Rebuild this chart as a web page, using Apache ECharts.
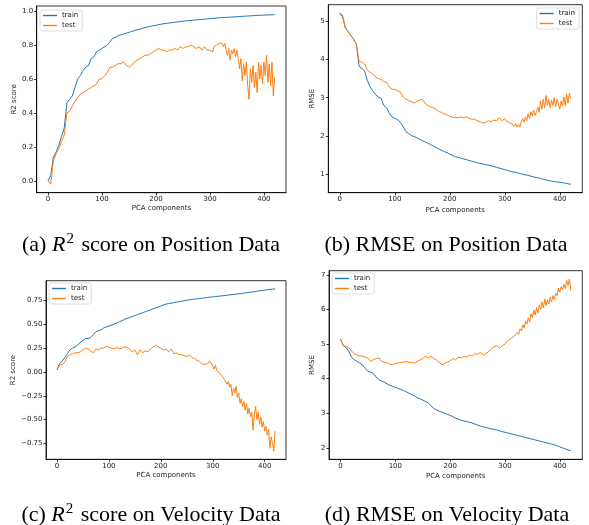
<!DOCTYPE html>
<html><head><meta charset="utf-8">
<script src="https://cdn.jsdelivr.net/npm/echarts@6/dist/echarts.min.js"></script>
<style>html,body{margin:0;padding:0;background:#fff}#c{width:589px;height:525px}</style>
</head><body><div id="c"></div>
<script>
const comps = [0,5,10,15,20,25,30,35,40,45,50,55,60,65,70,75,80,85,90,95,100,105,110,115,120,125,130,135,140,145,150,155,160,165,170,175,180,185,190,195,200,205,210,215,220,225,230,235,240,245,250,255,260,265,270,275,280,285,290,295,300,305,310,315,320,325,330,335,340,345,350,355,360,365,370,375,380,385,390,395,400,405,410,415,420];
const tailComps = [300,302.5,305,307.5,310,312.5,315,317.5,320,322.5,325,327.5,330,332.5,335,337.5,340,342.5,345,347.5,350,352.5,355,357.5,360,362.5,365,367.5,370,372.5,375,377.5,380,382.5,385,387.5,390,392.5,395,397.5,400,402.5,405,407.5,410,412.5,415,417.5,420];

const trainA = [0.00,0.03,0.14,0.17,0.21,0.26,0.31,0.46,0.48,0.50,
0.55,0.60,0.62,0.65,0.67,0.68,0.72,0.73,0.76,0.77,
0.78,0.79,0.80,0.82,0.84,0.845,0.855,0.86,0.865,0.87,
0.875,0.88,0.885,0.89,0.893,0.898,0.903,0.907,0.91,0.914,
0.917,0.92,0.923,0.926,0.928,0.93,0.932,0.934,0.936,0.938,
0.94,0.942,0.944,0.945,0.947,0.948,0.95,0.951,0.953,0.954,
0.956,0.957,0.958,0.96,0.961,0.962,0.963,0.964,0.965,0.966,
0.967,0.968,0.969,0.97,0.971,0.972,0.973,0.974,0.975,0.976,
0.976,0.977,0.978,0.978,0.979];
const testA = [0.00,-0.02,0.12,0.16,0.19,0.23,0.27,0.40,0.41,0.44,
0.47,0.49,0.51,0.52,0.53,0.54,0.55,0.56,0.57,0.60,
0.60,0.62,0.64,0.67,0.67,0.68,0.69,0.69,0.70,0.68,
0.67,0.68,0.70,0.71,0.72,0.73,0.74,0.74,0.75,0.76,
0.77,0.78,0.77,0.77,0.76,0.77,0.77,0.78,0.77,0.79,
0.78,0.79,0.79,0.80,0.79,0.78,0.79,0.77,0.79,0.77];
const testATail = [0.77,0.78,0.76,0.79,0.78,0.80,0.79,0.81,0.80,0.81,
0.79,0.81,0.77,0.74,0.78,0.71,0.77,0.75,0.78,0.73,
0.77,0.72,0.66,0.72,0.59,0.69,0.62,0.70,0.56,0.48,
0.66,0.58,0.68,0.55,0.64,0.52,0.70,0.60,0.68,0.57,
0.70,0.62,0.74,0.58,0.69,0.56,0.70,0.50,0.61];

const trainB = [5.20,5.10,4.82,4.72,4.62,4.52,4.40,3.82,3.76,3.70,
3.45,3.28,3.18,3.08,3.02,2.98,2.80,2.74,2.60,2.50,
2.46,2.43,2.36,2.25,2.12,2.07,2.02,1.99,1.96,1.92,
1.89,1.85,1.82,1.78,1.74,1.71,1.67,1.63,1.60,1.57,
1.53,1.50,1.47,1.45,1.43,1.41,1.39,1.37,1.35,1.33,
1.31,1.29,1.28,1.26,1.25,1.23,1.21,1.19,1.17,1.15,
1.13,1.11,1.09,1.07,1.06,1.04,1.02,1.00,0.99,0.97,
0.95,0.93,0.92,0.90,0.88,0.86,0.85,0.83,0.82,0.81,
0.80,0.79,0.78,0.76,0.75];
const testB = [5.20,5.15,4.82,4.72,4.62,4.52,4.40,3.95,3.93,3.88,
3.72,3.66,3.62,3.54,3.50,3.48,3.42,3.40,3.28,3.22,
3.22,3.18,3.15,3.02,2.96,2.93,2.90,2.86,2.90,2.94,
2.96,2.86,2.80,2.76,2.74,2.70,2.64,2.62,2.58,2.55,
2.52,2.49,2.49,2.48,2.50,2.48,2.51,2.46,2.44,2.44,
2.40,2.38,2.34,2.36,2.40,2.38,2.42,2.40,2.48,2.40];
const testBTail = [2.46,2.40,2.44,2.36,2.40,2.32,2.36,2.26,2.32,2.24,
2.30,2.24,2.38,2.46,2.36,2.50,2.40,2.58,2.46,2.64,
2.52,2.68,2.54,2.62,2.76,2.62,2.92,2.70,2.96,2.74,
3.06,2.80,2.96,2.74,2.94,2.80,3.00,2.76,2.96,2.82,
2.70,2.92,2.78,3.02,2.80,3.10,2.86,3.12,2.98];

const trainC = [0.02,0.09,0.11,0.15,0.19,0.23,0.25,0.26,0.28,0.31,
0.33,0.35,0.35,0.36,0.39,0.42,0.43,0.44,0.46,0.47,
0.48,0.49,0.50,0.51,0.525,0.535,0.55,0.56,0.57,0.58,
0.59,0.60,0.61,0.62,0.63,0.64,0.65,0.66,0.67,0.68,
0.69,0.70,0.71,0.715,0.72,0.725,0.73,0.735,0.74,0.745,
0.75,0.755,0.76,0.762,0.765,0.77,0.772,0.775,0.78,0.783,
0.786,0.789,0.792,0.795,0.798,0.80,0.805,0.808,0.81,0.815,
0.818,0.82,0.825,0.83,0.833,0.836,0.84,0.845,0.85,0.853,
0.856,0.86,0.864,0.867,0.87];
const testC = [0.02,0.07,0.08,0.10,0.16,0.18,0.19,0.20,0.20,0.21,
0.23,0.25,0.24,0.22,0.20,0.24,0.23,0.25,0.25,0.27,
0.26,0.25,0.24,0.26,0.24,0.25,0.26,0.26,0.24,0.21,
0.23,0.18,0.23,0.20,0.22,0.21,0.24,0.26,0.28,0.26,
0.25,0.23,0.24,0.21,0.24,0.19,0.20,0.18,0.18,0.17,
0.16,0.18,0.15,0.14,0.12,0.11,0.08,0.08,0.09,0.11];
const testCTail = [0.06,0.03,0.07,0.02,0.04,-0.01,0.01,-0.04,-0.03,-0.08,
-0.06,-0.13,-0.10,-0.16,-0.13,-0.25,-0.17,-0.22,-0.15,-0.27,
-0.22,-0.33,-0.28,-0.36,-0.31,-0.40,-0.33,-0.44,-0.38,-0.47,
-0.42,-0.61,-0.45,-0.36,-0.50,-0.42,-0.55,-0.47,-0.58,-0.52,
-0.62,-0.57,-0.66,-0.60,-0.80,-0.68,-0.75,-0.83,-0.62];

const trainD = [5.15,4.95,4.90,4.80,4.62,4.55,4.50,4.45,4.40,4.30,
4.21,4.19,4.15,4.05,3.97,3.93,3.90,3.85,3.81,3.78,
3.75,3.72,3.69,3.66,3.62,3.58,3.54,3.50,3.45,3.42,
3.38,3.34,3.30,3.22,3.14,3.10,3.06,3.03,3.00,2.97,
2.94,2.90,2.86,2.83,2.80,2.78,2.76,2.74,2.72,2.69,
2.66,2.63,2.61,2.59,2.57,2.55,2.54,2.52,2.49,2.47,
2.45,2.43,2.41,2.39,2.37,2.35,2.33,2.31,2.29,2.27,
2.25,2.23,2.21,2.19,2.17,2.15,2.13,2.11,2.09,2.06,
2.03,2.00,1.97,1.94,1.92];
const testD = [5.13,4.96,4.93,4.90,4.80,4.72,4.68,4.66,4.65,4.62,
4.60,4.50,4.55,4.58,4.60,4.50,4.48,4.46,4.42,4.40,
4.44,4.45,4.47,4.48,4.50,4.46,4.48,4.44,4.50,4.54,
4.58,4.66,4.60,4.65,4.58,4.54,4.47,4.40,4.44,4.48,
4.52,4.58,4.55,4.62,4.60,4.64,4.62,4.68,4.65,4.72,
4.70,4.76,4.68,4.72,4.78,4.86,4.92,4.95,4.88,4.95];
const testDTail = [5.00,5.06,5.02,5.12,5.08,5.18,5.14,5.24,5.20,5.34,
5.28,5.44,5.38,5.56,5.46,5.66,5.58,5.76,5.64,5.88,
5.76,5.98,5.84,6.06,5.90,6.14,6.00,6.22,6.04,6.30,
6.12,6.28,6.16,6.36,6.22,6.40,6.28,6.46,6.40,6.62,
6.50,6.66,6.56,6.72,6.60,6.84,6.70,6.88,6.55];

const xTicks = [0,100,200,300,400];
const yTicksA = [0.0,0.2,0.4,0.6,0.8,1.0];
const yTicksB = [1,2,3,4,5];
const yTicksC = [-0.75,-0.5,-0.25,0,0.25,0.5,0.75];
const yTicksD = [2,3,4,5,6,7];
const seriesNames = ['train','test'];
const xName = 'PCA components';
const yNames = ['R2 score','RMSE','R2 score','RMSE'];
const captions = [
  '{n|(a) }{i|R}{s|2}{n| score on Position Data}',
  '{n|(b) RMSE on Position Data}',
  '{n|(c) }{i|R}{s|2}{n| score on Velocity Data}',
  '{n|(d) RMSE on Velocity Data}'
];

const BLUE = '#1f77b4', ORANGE = '#ff7f0e';
const FONT = 'DejaVu Sans';
const pair = (xs, arr) => arr.map((v, i) => [xs[i], v]);
const fmtMinus = s => s.replace('-', '\u2212');

const grids = [
  {left: 36.7, top: 6, width: 249.3, height: 186.7},
  {left: 328.3, top: 4.7, width: 254, height: 188},
  {left: 46, top: 280.7, width: 240, height: 178.6},
  {left: 329, top: 270.7, width: 253.3, height: 188.6}
];
const yRanges = [[-0.07, 1.03], [0.53, 5.42], [-0.915, 0.955], [1.67, 7.12]];
const yTicks = [yTicksA, yTicksB, yTicksC, yTicksD];
const yFmt = [v => v.toFixed(1), v => String(v), v => fmtMinus(v.toFixed(2)), v => String(v)];
const yNameGap = [16, 13, 26, 13];
const xNameGap = [12, 14, 12, 13];
const legendPos = [{left: 40, top: 10}, {left: 536.7, top: 8}, {left: 49, top: 283}, {left: 332, top: 273}];
const captionPos = [[151, 243], [446, 243], [151, 513], [447, 513]];

const axisCommon = {
  axisLine: {show: true, onZero: false, lineStyle: {color: '#000', width: 0.8}},
  splitLine: {show: false},
  nameTextStyle: {fontFamily: FONT, fontSize: 7, color: '#222'}
};

const option = {
  animation: false,
  backgroundColor: '#fff',
  grid: grids.map(g => Object.assign({show: true, borderColor: '#000', borderWidth: 0.8, backgroundColor: 'transparent'}, g)),
  xAxis: grids.map((g, i) => Object.assign({}, axisCommon, {
    type: 'value', gridIndex: i, min: -21, max: 441,
    name: xName, nameLocation: 'middle', nameGap: xNameGap[i],
    axisTick: {show: true, length: 2.5, lineStyle: {color: '#000', width: 0.8}, customValues: xTicks},
    axisLabel: {fontFamily: FONT, fontSize: 7, color: '#222', margin: 3, customValues: xTicks, formatter: v => String(v)}
  })),
  yAxis: grids.map((g, i) => Object.assign({}, axisCommon, {
    type: 'value', gridIndex: i, min: yRanges[i][0], max: yRanges[i][1],
    name: yNames[i], nameLocation: 'middle', nameGap: yNameGap[i],
    axisTick: {show: true, length: 2.5, lineStyle: {color: '#000', width: 0.8}, customValues: yTicks[i]},
    axisLabel: {fontFamily: FONT, fontSize: 7, color: '#222', margin: 3.5, customValues: yTicks[i], formatter: yFmt[i]}
  })),
  legend: legendPos.map(p => ({
    left: p.left, top: p.top, orient: 'vertical', data: seriesNames,
    icon: 'rect', itemWidth: 14, itemHeight: 1.4, itemGap: 3,
    padding: [2, 4, 2, 3],
    borderColor: '#d5d5d5', borderWidth: 0.8, borderRadius: 2, backgroundColor: '#fff',
    textStyle: {fontFamily: FONT, fontSize: 7, color: '#222'},
    selectedMode: false
  })),
  series: [],
  graphic: captions.map((t, i) => ({
    type: 'text', x: captionPos[i][0], y: captionPos[i][1],
    style: {
      text: t, textAlign: 'center', textVerticalAlign: 'middle',
      rich: {
        n: {fontFamily: 'Liberation Serif', fontSize: 22, fill: '#000', verticalAlign: 'bottom', lineHeight: 26},
        i: {fontFamily: 'Liberation Serif', fontSize: 22, fontStyle: 'italic', fill: '#000', verticalAlign: 'bottom', lineHeight: 26},
        s: {fontFamily: 'Liberation Serif', fontSize: 15, fill: '#000', verticalAlign: 'bottom', lineHeight: 26, padding: [0, 2, 9, 1]}
      }
    }
  }))
};

const panels = [
  [trainA, testA, testATail], [trainB, testB, testBTail],
  [trainC, testC, testCTail], [trainD, testD, testDTail]
];
panels.forEach((p, i) => {
  option.series.push({
    type: 'line', name: seriesNames[0], xAxisIndex: i, yAxisIndex: i,
    data: pair(comps, p[0]), showSymbol: false, symbol: 'none',
    lineStyle: {color: BLUE, width: 1}, itemStyle: {color: BLUE}, z: 2
  });
  option.series.push({
    type: 'line', name: seriesNames[1], xAxisIndex: i, yAxisIndex: i,
    data: pair(comps, p[1]).concat(pair(tailComps, p[2])), showSymbol: false, symbol: 'none',
    lineStyle: {color: ORANGE, width: 1}, itemStyle: {color: ORANGE}, z: 3
  });
});

const chart = echarts.init(document.getElementById('c'), null, {renderer: 'canvas'});
chart.setOption(option);
</script>
</body></html>
